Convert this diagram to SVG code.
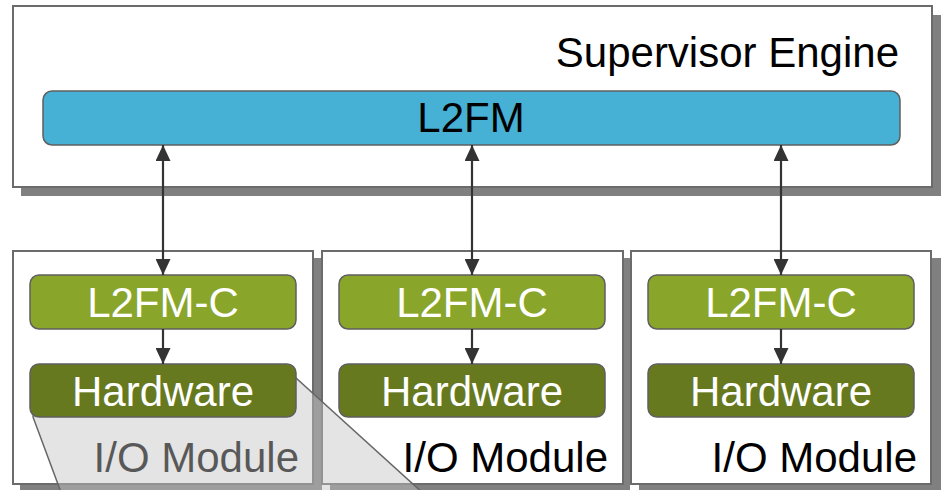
<svg xmlns="http://www.w3.org/2000/svg" width="944" height="490" viewBox="0 0 944 490">
  <style>
    .frame { fill: #ffffff; stroke: #6b6b6b; stroke-width: 2; }
    .shadow { fill: #808080; }
    .node { stroke: #5f5f5f; stroke-width: 1.5; }
    .l2fm { fill: #46b0d5; }
    .l2fmc { fill: #8aa62a; }
    .hw { fill: #67791e; }
    text { font-family: "Liberation Sans", Arial, sans-serif; font-size: 42px; }
    .dark { fill: #000000; }
    .light { fill: #ffffff; }
    .mid { text-anchor: middle; }
    .end { text-anchor: end; }
    .link { stroke: #333333; stroke-width: 2.2; fill: none; }
    .callout { fill: #c4c4c4; fill-opacity: 0.45; stroke: #666666; stroke-width: 1.5; }
  </style>
  <defs>
    <marker id="head" viewBox="0 0 16 15" refX="16" refY="7.5" markerWidth="16" markerHeight="15" markerUnits="userSpaceOnUse" orient="auto-start-reverse">
      <path d="M0,0 L16,7.5 L0,15 Z" fill="#333333"/>
    </marker>
  </defs>

  <rect width="944" height="490" fill="#ffffff"/>

  <!-- supervisor engine container -->
  <g id="supervisor">
    <rect class="shadow" x="21" y="15" width="920" height="181"/>
    <rect class="frame" x="13" y="6" width="919" height="181"/>
    <text class="dark end" x="899" y="67">Supervisor Engine</text>
  </g>

  <!-- I/O module containers -->
  <g id="module1">
    <rect class="shadow" x="20" y="258" width="302" height="240"/>
    <rect class="frame" x="13" y="251" width="300" height="233"/>
    <text class="dark end" x="299" y="472">I/O Module</text>
  </g>
  <g id="module2">
    <rect class="shadow" x="330" y="258" width="300" height="240"/>
    <rect class="frame" x="322" y="251" width="301" height="233"/>
    <text class="dark end" x="608" y="472">I/O Module</text>
  </g>
  <g id="module3">
    <rect class="shadow" x="639" y="258" width="302" height="240"/>
    <rect class="frame" x="631" y="251" width="300" height="233"/>
    <text class="dark end" x="917" y="472">I/O Module</text>
  </g>

  <!-- magnified view of the first hardware block -->
  <g id="callout">
    <polygon class="callout" points="33,417 40,378 296,378 425,495 62,495"/>
  </g>

  <g id="l2fm">
    <rect class="node l2fm" x="43" y="91" width="857" height="54" rx="9"/>
    <text class="dark mid" x="471" y="132">L2FM</text>
  </g>

  <g id="l2fmc1">
    <rect class="node l2fmc" x="30" y="275" width="266" height="54" rx="9"/>
    <text class="light mid" x="163" y="317">L2FM-C</text>
  </g>
  <g id="hw1">
    <rect class="node hw" x="30" y="364" width="266" height="53" rx="9"/>
    <text class="light mid" x="163" y="406">Hardware</text>
  </g>
  <g id="l2fmc2">
    <rect class="node l2fmc" x="339" y="275" width="266" height="54" rx="9"/>
    <text class="light mid" x="472" y="317">L2FM-C</text>
  </g>
  <g id="hw2">
    <rect class="node hw" x="339" y="364" width="266" height="53" rx="9"/>
    <text class="light mid" x="472" y="406">Hardware</text>
  </g>
  <g id="l2fmc3">
    <rect class="node l2fmc" x="648" y="275" width="266" height="54" rx="9"/>
    <text class="light mid" x="781" y="317">L2FM-C</text>
  </g>
  <g id="hw3">
    <rect class="node hw" x="648" y="364" width="266" height="53" rx="9"/>
    <text class="light mid" x="781" y="406">Hardware</text>
  </g>

  <g id="connectors">
    <line class="link" x1="163" y1="145" x2="163" y2="275" marker-start="url(#head)" marker-end="url(#head)"/>
    <line class="link" x1="472" y1="145" x2="472" y2="275" marker-start="url(#head)" marker-end="url(#head)"/>
    <line class="link" x1="781" y1="145" x2="781" y2="275" marker-start="url(#head)" marker-end="url(#head)"/>
    <line class="link" x1="163" y1="329" x2="163" y2="364" marker-end="url(#head)"/>
    <line class="link" x1="472" y1="329" x2="472" y2="364" marker-end="url(#head)"/>
    <line class="link" x1="781" y1="329" x2="781" y2="364" marker-end="url(#head)"/>
  </g>
</svg>
